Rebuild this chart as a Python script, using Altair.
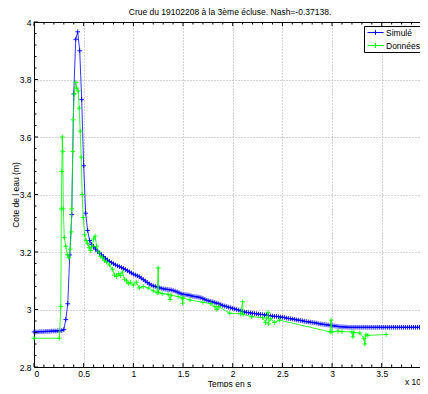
import altair as alt
import pandas as pd

FONT = "Liberation Sans"

TITLE = "Crue du 19102208 à la 3ème écluse. Nash=-0.37138."
X_TITLE = "Temps en s"
Y_TITLE = "Cote de l eau (m)"
SERIES = ["Simulé", "Données"]
COLORS = ["#0000ff", "#00ff00"]

X_TICKS = [0, 0.5, 1, 1.5, 2, 2.5, 3, 3.5]
Y_TICKS = [2.8, 3.0, 3.2, 3.4, 3.6, 3.8, 4.0]
X_MINOR = [round(i * 0.1, 2) for i in range(39) if i % 5 != 0]
Y_MINOR = [round(2.8 + i * 0.04, 2) for i in range(31) if i % 5 != 0]

# Simulated series, sampled every 0.02 (x 10^4 s)
SIM_STEP = 0.02
SIM_V = [
    2.922, 2.922, 2.922, 2.923, 2.923, 2.923, 2.924, 2.924, 2.924, 2.925, 2.925, 2.925, 2.926, 2.926, 2.927,
    2.930, 2.965, 3.020, 3.190, 3.330, 3.750, 3.940, 3.966, 3.900, 3.730,
    3.500, 3.335, 3.275, 3.240, 3.226, 3.218, 3.210, 3.203, 3.196, 3.190,
    3.184, 3.178, 3.172, 3.167, 3.163, 3.159, 3.155, 3.152, 3.149, 3.146,
    3.143, 3.139, 3.135, 3.131, 3.127, 3.123, 3.120, 3.117, 3.114, 3.109,
    3.104, 3.099, 3.094, 3.089, 3.085, 3.082, 3.080, 3.078, 3.076, 3.074,
    3.072, 3.071, 3.070, 3.069, 3.068, 3.066, 3.064, 3.061, 3.058, 3.055,
    3.053, 3.052, 3.051, 3.050, 3.048, 3.046, 3.045, 3.044, 3.043, 3.041,
    3.038, 3.035, 3.032, 3.030, 3.028, 3.026, 3.024, 3.022, 3.020, 3.017,
    3.014, 3.012, 3.010, 3.008, 3.006, 3.004, 3.002, 3.000, 2.998, 2.995,
    2.993, 2.991, 2.990, 2.989, 2.988, 2.987, 2.986, 2.985, 2.984, 2.983,
    2.982, 2.981, 2.980, 2.979, 2.978, 2.977, 2.976, 2.976, 2.975, 2.974,
    2.973, 2.972, 2.970, 2.969, 2.968, 2.967, 2.966, 2.964, 2.963, 2.962,
    2.961, 2.959, 2.958, 2.957, 2.956, 2.955, 2.954, 2.953, 2.951, 2.950,
    2.949, 2.948, 2.947, 2.946, 2.945, 2.944, 2.943, 2.942, 2.941, 2.940,
    2.940, 2.939, 2.939, 2.938, 2.938, 2.938, 2.938, 2.938, 2.938, 2.938,
    2.938, 2.938, 2.938, 2.938, 2.938, 2.938, 2.938, 2.938, 2.938, 2.938,
    2.938, 2.938, 2.938, 2.938, 2.938, 2.938, 2.938, 2.938, 2.938, 2.938,
    2.938, 2.938, 2.938, 2.938, 2.938, 2.938, 2.938, 2.938, 2.938, 2.938,
    2.938, 2.938, 2.938, 2.938,
]

# Observed series (irregular times)
OBS_T = [0.0, 0.255, 0.27, 0.275, 0.28, 0.285, 0.29, 0.295, 0.305, 0.32, 0.335, 0.35, 0.365, 0.375,
         0.38, 0.39, 0.395, 0.405, 0.42, 0.43, 0.445, 0.455, 0.465, 0.475, 0.485, 0.495, 0.51, 0.525,
         0.54, 0.555, 0.57, 0.585, 0.60, 0.615, 0.63, 0.65, 0.67, 0.69, 0.71, 0.73, 0.76, 0.79, 0.81,
         0.83, 0.85, 0.87, 0.89, 0.91, 0.93, 0.95, 0.97, 1.00, 1.03, 1.06, 1.10, 1.15, 1.20, 1.24,
         1.25, 1.255, 1.29, 1.35, 1.37, 1.38, 1.45, 1.49, 1.495, 1.50, 1.57, 1.70, 1.78, 1.82, 1.84,
         1.86, 1.97, 2.08, 2.10, 2.105, 2.19, 2.30, 2.33, 2.34, 2.355, 2.36, 2.38, 2.42, 2.47, 2.98,
         2.99, 3.00, 3.06, 3.10, 3.20, 3.21, 3.22, 3.28, 3.32, 3.33, 3.34, 3.36, 3.545]
OBS_V = [2.900, 2.900, 3.010, 3.350, 3.480, 3.600, 3.550, 3.350, 3.250, 3.220, 3.190, 3.180, 3.210, 3.270,
         3.350, 3.550, 3.660, 3.750, 3.790, 3.770, 3.760, 3.700, 3.620, 3.530, 3.400, 3.320, 3.260, 3.240,
         3.230, 3.215, 3.205, 3.220, 3.245, 3.255, 3.220, 3.200, 3.185, 3.180, 3.170, 3.165, 3.155, 3.140, 3.120,
         3.115, 3.125, 3.118, 3.130, 3.105, 3.100, 3.090, 3.095, 3.085, 3.095, 3.075, 3.080, 3.075, 3.065, 3.058,
         3.145, 3.060, 3.055, 3.053, 3.035, 3.050, 3.045, 3.040, 3.022, 3.040, 3.033, 3.025, 3.020, 3.010, 3.000,
         3.010, 2.987, 2.985, 3.027, 2.983, 2.975, 2.972, 2.955, 2.970, 2.990, 2.950, 2.968, 2.955, 2.963, 2.922,
         2.963, 2.922, 2.925, 2.923, 2.922, 2.905, 2.920, 2.918, 2.900, 2.880, 2.912, 2.910, 2.913]

sim = pd.DataFrame({"t": [round(i * SIM_STEP, 2) for i in range(len(SIM_V))], "v": SIM_V, "s": SERIES[0], "o": range(len(SIM_V))})
obs = pd.DataFrame({"t": OBS_T, "v": OBS_V, "s": SERIES[1], "o": range(len(OBS_T))})
data = pd.concat([sim, obs], ignore_index=True)

W, H = 386, 345
XDOM = [0, 3.885]
YDOM = [2.8, 4.0]

xs = alt.Scale(domain=XDOM, nice=False, zero=False)
ys = alt.Scale(domain=YDOM, nice=False, zero=False)
cscale = alt.Scale(domain=SERIES, range=COLORS)
legend = alt.Legend(title=None, orient="none", legendX=330, legendY=4,
                    symbolType="M-0.75,0H3.25M1.25,-0.6V0.6", symbolSize=64,
                    symbolStrokeWidth=1, symbolFillColor="transparent",
                    labelFontSize=8.5, labelFont=FONT, labelColor="black",
                    labelOffset=11, padding=2, rowPadding=4,
                    fillColor="white", strokeColor="black")
color = alt.Color("s:N", scale=cscale, legend=legend)

x_axis = alt.Axis(values=X_TICKS, format=".1~f", grid=True, gridDash=[1, 2], gridColor="#a8a8a8",
                  ticks=False, domainColor="black", labelFontSize=8.5, labelPadding=2, labelColor="black",
                  title=X_TITLE, titleFontSize=8.5, titleFontWeight="normal", titleColor="black",
                  titleX=W / 2 + 2, titleY=16, titleBaseline="middle", titleAlign="center")
y_axis = alt.Axis(values=Y_TICKS, format=".1~f", grid=True, gridDash=[1, 2], gridColor="#a8a8a8",
                  ticks=False, domainColor="black", labelFontSize=8.5, labelPadding=3, labelColor="black",
                  title=Y_TITLE, titleFontSize=8.5, titleFontWeight="normal", titleColor="black",
                  titleX=-19, titleY=H / 2, titleAngle=270, titleBaseline="middle", titleAlign="center")

CROSS = "M-1,0H1M0,-1V1"


def series_layers(name, first=False):
    b = alt.Chart(data).transform_filter(alt.datum.s == name)
    xenc = alt.X("t:Q", scale=xs, axis=x_axis) if first else alt.X("t:Q", scale=xs)
    yenc = alt.Y("v:Q", scale=ys, axis=y_axis) if first else alt.Y("v:Q", scale=ys)
    line = b.mark_line(strokeWidth=0.8, interpolate="linear").encode(
        x=xenc, y=yenc, color=color, order="o:Q")
    pts = b.mark_point(shape=CROSS, filled=False, size=22, strokeWidth=0.9, opacity=1).encode(
        x=alt.X("t:Q", scale=xs), y=alt.Y("v:Q", scale=ys), color=color)
    return [line, pts]


def tick_df(vals):
    return pd.DataFrame({"v": vals})


xt_major = alt.Chart(tick_df(X_TICKS))
xt_minor = alt.Chart(tick_df(X_MINOR))
yt_major = alt.Chart(tick_df(Y_TICKS))
yt_minor = alt.Chart(tick_df(Y_MINOR))

rule = dict(color="black", strokeWidth=1)
ticks = [
    xt_major.mark_rule(**rule).encode(x=alt.X("v:Q", scale=xs), y=alt.value(H), y2=alt.value(H - 4)),
    xt_major.mark_rule(**rule).encode(x=alt.X("v:Q", scale=xs), y=alt.value(0), y2=alt.value(4)),
    xt_minor.mark_rule(**rule).encode(x=alt.X("v:Q", scale=xs), y=alt.value(H), y2=alt.value(H - 2.5)),
    xt_minor.mark_rule(**rule).encode(x=alt.X("v:Q", scale=xs), y=alt.value(0), y2=alt.value(2.5)),
    yt_major.mark_rule(**rule).encode(y=alt.Y("v:Q", scale=ys), x=alt.value(0), x2=alt.value(4)),
    yt_minor.mark_rule(**rule).encode(y=alt.Y("v:Q", scale=ys), x=alt.value(0), x2=alt.value(2.5)),
    alt.Chart(tick_df([0])).mark_rule(**rule).encode(x=alt.value(0), x2=alt.value(W + 10), y=alt.value(0.5)),
]

texts = pd.DataFrame({"txt": [TITLE]})
title_text = alt.Chart(texts).mark_text(
    fontSize=8.5, font=FONT, color="black", align="center", baseline="middle"
).encode(x=alt.value(W / 2 + 3), y=alt.value(-10), text="txt:N")

exp_text = alt.Chart(pd.DataFrame({"txt": ["x 10"]})).mark_text(
    fontSize=8.5, font=FONT, color="black", align="left", baseline="bottom"
).encode(x=alt.value(371), y=alt.value(H + 20), text="txt:N")

chart = alt.layer(
    *series_layers(SERIES[0], first=True), *series_layers(SERIES[1]), *ticks, title_text, exp_text
).properties(
    width=W, height=H,
    autosize=alt.AutoSizeParams(type="none"),
    padding={"left": 26, "top": 14, "right": 0, "bottom": 20},
    background="white",
).configure_view(stroke=None).configure_axis(
    labelFont=FONT, titleFont=FONT
).configure_legend(labelFont=FONT)

chart.save("out.html", embed_options={"renderer": "svg", "actions": False})
